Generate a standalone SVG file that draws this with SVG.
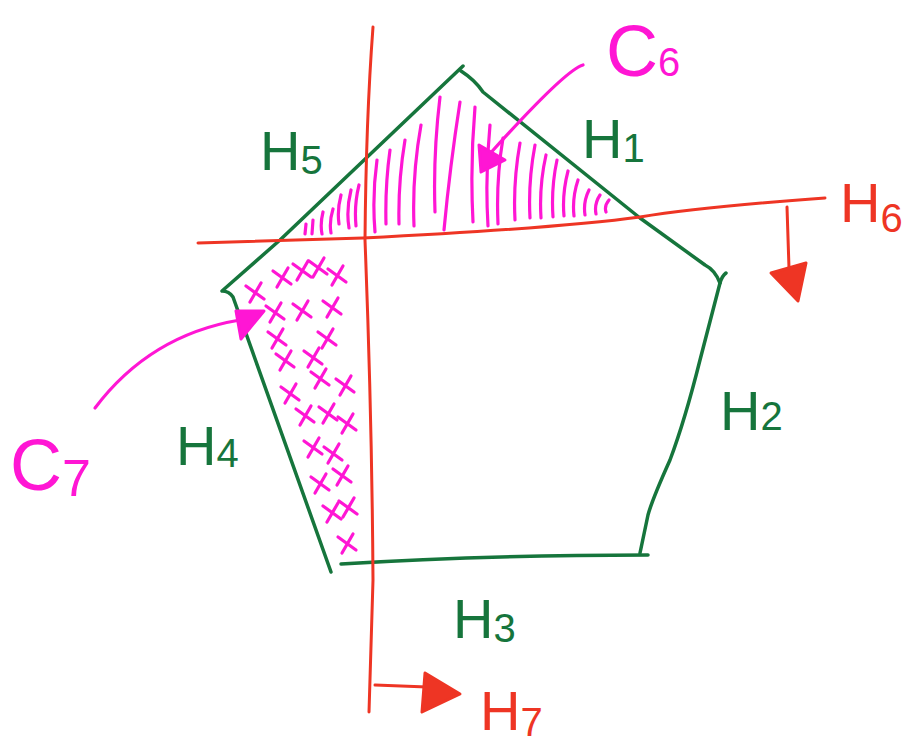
<svg xmlns="http://www.w3.org/2000/svg" xmlns:xlink="http://www.w3.org/1999/xlink" width="904" height="751" viewBox="0 0 904 751">
<style>
.g{fill:none;stroke:#16753c;stroke-width:3.5;stroke-linecap:round;stroke-linejoin:round}
.r{fill:none;stroke:#ee3524;stroke-width:3;stroke-linecap:round;stroke-linejoin:round}
.rf{fill:#ee3524;stroke:#ee3524;stroke-width:3;stroke-linejoin:round}
.m{fill:none;stroke:#ff16d4;stroke-width:3.2;stroke-linecap:round;stroke-linejoin:round}
.mf{fill:#ff16d4;stroke:#ff16d4;stroke-width:3;stroke-linejoin:round}
.t{font-family:"Liberation Sans","DejaVu Sans",sans-serif;font-size:56px}
.tg{fill:#16753c}.tr{fill:#ee3524}.tm{fill:#ff16d4}
.sub{font-size:40px}
</style>
<defs>
<path id="x" d="M-9,-6 L9,7 M6,-9 L-5,10"/>
</defs>
<rect width="904" height="751" fill="#fff"/>
<g id="pentagon">
<path class="g" d="M463,66 L280,240 L222,291 Q229,291 233,297 L331,572"/>
<path class="g" d="M341,564 Q480,555 648,555"/>
<path class="g" d="M726,273 Q722,276 720,283 L700,360 Q685,420 670,460 Q652,500 648,515 L640,553"/>
<path class="g" d="M461,71 Q475,80 483,92 L640,218 L705,265 Q715,270 720,283"/>
</g>
<g id="hatch-c6">
<path class="m" d="M306,224 L305,234 M313,220 L312,234 M323,212 Q320,224 322,234 M333,209 Q329,222 331,233 M341,195 Q337,210 339,224 M351,190 Q346,210 349,228 M359,185 Q354,205 356,226 M377,160 Q372,196 375,232 M390,150 Q385,186 386,224 M405,140 Q398,182 399,224 M421,125 Q412,175 414,226 M440,97 Q433,155 435,212 M460,102 Q450,166 444,230 M475,107 Q470,165 473,222 M490,125 Q485,175 488,226 M503,138 Q496,180 498,224 M520,143 Q513,182 515,220 M535,145 Q528,182 530,218 M546,155 Q539,186 541,218 M557,160 Q551,188 553,217 M568,171 Q562,194 564,216 M578,180 Q572,198 574,216 M589,190 Q583,202 585,215 M600,195 Q594,204 596,214 M609,200 Q604,206 606,212"/>
</g>
<g id="crosses-c7" class="m">
<use xlink:href="#x" x="255" y="292"/>
<use xlink:href="#x" x="282" y="277"/>
<use xlink:href="#x" x="302" y="270"/>
<use xlink:href="#x" x="318" y="267"/>
<use xlink:href="#x" x="337" y="275"/>
<use xlink:href="#x" x="275" y="312"/>
<use xlink:href="#x" x="302" y="310"/>
<use xlink:href="#x" x="332" y="307"/>
<use xlink:href="#x" x="277" y="338"/>
<use xlink:href="#x" x="327" y="338"/>
<use xlink:href="#x" x="285" y="360"/>
<use xlink:href="#x" x="313" y="357"/>
<use xlink:href="#x" x="320" y="378"/>
<use xlink:href="#x" x="345" y="385"/>
<use xlink:href="#x" x="290" y="393"/>
<use xlink:href="#x" x="305" y="415"/>
<use xlink:href="#x" x="328" y="413"/>
<use xlink:href="#x" x="347" y="423"/>
<use xlink:href="#x" x="313" y="447"/>
<use xlink:href="#x" x="333" y="453"/>
<use xlink:href="#x" x="320" y="483"/>
<use xlink:href="#x" x="342" y="475"/>
<use xlink:href="#x" x="332" y="512"/>
<use xlink:href="#x" x="348" y="507"/>
<use xlink:href="#x" x="347" y="543"/>
</g>
<g id="connectors">
<path class="r" d="M373,27 Q366,120 365,240 Q372,420 373,580 L369,712"/>
<path class="r" d="M198,243 L363,238 Q560,228 640,217 Q700,207 825,198"/>
<path class="r" d="M787,207 L789,268"/>
<polygon class="rf" points="771,273 806,263 798,301"/>
<path class="r" d="M375,685 L427,687"/>
<polygon class="rf" points="425,673 460,694 422,712"/>
<path class="m" d="M583,65 Q565,70 487,157"/>
<polygon class="mf" points="479,145 505,160 481,172"/>
<path class="m" d="M95,408 Q150,335 240,320"/>
<polygon class="mf" points="236,311 264,311 241,339"/>
</g>
<g id="labels" class="t">
<text id="H5" class="tg" x="260" y="170">H<tspan class="sub" dy="4">5</tspan></text>
<text id="H1" class="tg" x="582" y="158">H<tspan class="sub" dy="4">1</tspan></text>
<text id="H6" class="tr" x="840" y="222">H<tspan class="sub" dy="10">6</tspan></text>
<text id="H2" class="tg" x="720" y="430">H<tspan class="sub" dy="0">2</tspan></text>
<text id="H3" class="tg" x="453" y="638">H<tspan class="sub" dy="4">3</tspan></text>
<text id="H4" class="tg" x="176" y="465">H<tspan class="sub" dy="2">4</tspan></text>
<text id="H7" class="tr" x="480" y="730">H<tspan class="sub" dy="6">7</tspan></text>
<text id="C6" class="tm" x="606" y="76" font-size="72">C<tspan class="sub" font-size="52" dy="0">6</tspan></text>
<text id="C7" class="tm" x="10" y="490" font-size="72">C<tspan font-size="52" dy="6">7</tspan></text>
</g>
</svg>
